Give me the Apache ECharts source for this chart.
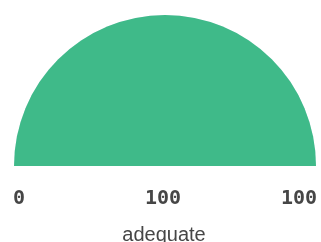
<!DOCTYPE html>
<html>
<head>
<meta charset="utf-8">
<script src="https://cdn.jsdelivr.net/npm/echarts@6/dist/echarts.min.js"></script>
<style>
  html, body { margin: 0; padding: 0; background: #fff; }
  #gauge_chart { width: 321px; height: 242px; }
</style>
</head>
<body>
<div id="gauge_chart"></div>
<script>
// gauge data
var gaugeNames = ['adequate']
var gaugeValues = [100]
var axisMin = 0
var axisMax = 100

var mainColor = '#3fba89'
var textColor = '#464646'
var monoFont = 'DejaVu Sans Mono'

var chart = echarts.init(document.getElementById('gauge_chart'))

function buildData() {
  var data = []
  gaugeNames.forEach(function(name, i) {
    data.push({ name: name, value: gaugeValues[i] })
  })
  return data
}

chart.setOption({
  animation: false,
  series: [{
    type: 'gauge',
    center: [165, 166],
    radius: 151,
    startAngle: 180,
    endAngle: 0,
    min: axisMin,
    max: axisMax,
    splitNumber: 1,
    progress: {
      show: true,
      width: 151,
      itemStyle: { color: mainColor }
    },
    axisLine: {
      lineStyle: { width: 151, color: [[1, '#e6ebf8']] }
    },
    pointer: { show: false },
    anchor: { show: false },
    axisTick: { show: false },
    splitLine: { show: false, length: 0 },
    axisLabel: {
      distance: -11,
      // push min / max labels below the arc ends
      formatter: function(v) { return '\n' + v },
      lineHeight: 66,
      color: textColor,
      fontSize: 20,
      fontWeight: 'bold',
      fontFamily: monoFont
    },
    detail: {
      offsetCenter: [-2, 33],
      color: textColor,
      fontSize: 20,
      fontWeight: 'bold',
      fontFamily: monoFont,
      formatter: '{value}'
    },
    title: {
      offsetCenter: [-1, 69],
      color: textColor,
      fontSize: 20,
      fontFamily: 'Liberation Sans'
    },
    data: buildData()
  }]
})
</script>
</body>
</html>
